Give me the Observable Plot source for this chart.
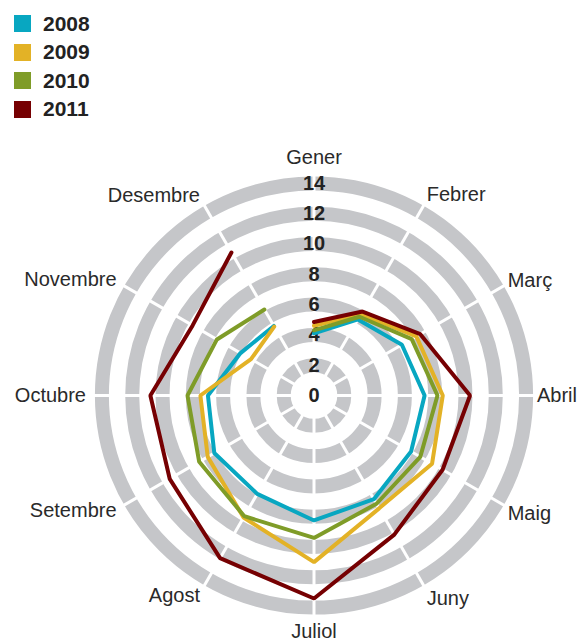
<!DOCTYPE html>
<html><head><meta charset="utf-8">
<script src="https://cdn.jsdelivr.net/npm/d3@7"></script>
<script src="https://cdn.jsdelivr.net/npm/@observablehq/plot@0.6"></script>
<style>
body{margin:0;background:#fff;font-family:"Liberation Sans",Arial,sans-serif;overflow:hidden;}
#legend{position:absolute;left:14px;top:15px;}
.item{display:flex;align-items:center;height:17px;margin-bottom:11.5px;font-weight:bold;font-size:21px;color:#222;}
.sw{width:17px;height:17px;margin-right:12px;flex:none;}
#chart{position:absolute;left:0;top:125px;}
</style></head><body>
<div id="legend"></div><div id="chart"></div>
<script>
const months = ["Gener","Febrer","Març","Abril","Maig","Juny","Juliol","Agost","Setembre","Octubre","Novembre","Desembre"];
const years = ["2008","2009","2010","2011"];
const colors = ["#08a7c1","#e3b226","#7f9c28","#760002"];
const v2008 = [4.1, 5.8, 6.7, 7.3, 7.4, 7.9, 8.25, 7.5, 7.6, 7.0, 5.6, 5.3];
const v2009 = [4.6, 6.2, 7.8, 8.5, 9.0, 8.6, 11.0, 9.3, 8.1, 7.5, 4.8, 5.25];
const v2010 = [4.3, 6.0, 7.45, 8.15, 8.1, 8.25, 9.4, 9.2, 8.75, 8.35, 7.4, 6.55];
const v2011 = [4.85, 6.4, 8.1, 10.3, 9.8, 10.6, 13.4, 12.4, 11.0, 10.8, 9.25, 10.9];
const ringValues = [2, 4, 6, 8, 10, 12, 14];
const tickValues = [0, 2, 4, 6, 8, 10, 12, 14];
const tickLabels = ["0","2","4","6","8","10","12","14"];

const series = [v2008, v2009, v2010, v2011];

// legend
const leg = document.getElementById("legend");
years.forEach((y, i) => {
  const it = document.createElement("div");
  it.className = "item";
  it.innerHTML = `<div class="sw" style="background:${colors[i]}"></div><span>${y}</span>`;
  leg.appendChild(it);
});

const K = 15.15, CX = 313.5, CY = 270, W = 578, H = 516;
const ang = i => i * Math.PI / 6;

const pts = [];
years.forEach((y, j) => {
  series[j].forEach((v, i) => {
    pts.push({year: y, month: months[i], v, x: v * Math.sin(ang(i)), y: v * Math.cos(ang(i))});
  });
});

const spokes = months.map((m, i) => ({x2: 15.2 * Math.sin(ang(i)), y2: 15.2 * Math.cos(ang(i))}));

const labels = months.map((m, i) => {
  const s = Math.sin(ang(i)), c = Math.cos(ang(i));
  const top = Math.abs(s) < 0.01;
  const right = s > 0.01;
  const r = (right ? 228 - 5 * s : 228) / K;
  const extra = (top ? (c > 0 ? 10 : 8) : 3) / K;
  let shift = 0;
  if (right) shift = c > 0 ? 3 * c : -5;
  return {m, x: r * s, y: (r + extra) * c + shift / K, anchor: right ? "start" : s < -0.01 ? "end" : "middle"};
});

const ticks = tickValues.map((v, i) => ({v, t: tickLabels[i]}));

const fontM = {fontSize: 20, fill: "#2a2a2a", fontFamily: "Liberation Sans, Arial, sans-serif"};

const chart = Plot.plot({
  width: W, height: H, margin: 0,
  style: {background: "transparent", overflow: "visible"},
  x: {domain: [-CX / K, (W - CX) / K], axis: null},
  y: {domain: [-(H - CY) / K, CY / K], axis: null},
  r: {type: "linear", domain: [0, 14], range: [0, 14 * K]},
  color: {domain: years, range: colors},
  marks: [
    Plot.dot(ringValues, {x: () => 0, y: () => 0, r: d => d, stroke: "#c5c6c9", strokeWidth: 14, fill: "none"}),
    Plot.link(spokes, {x1: () => 0, y1: () => 0, x2: "x2", y2: "y2", stroke: "white", strokeWidth: 3}),
    Plot.text(ticks, {x: () => 0, y: "v", text: "t", fontWeight: "bold", fontSize: 20, fill: "#222", fontFamily: "Liberation Sans, Arial, sans-serif"}),
    Plot.line(pts, {x: "x", y: "y", z: "year", stroke: "year", strokeWidth: 4, strokeLinejoin: "miter", curve: "linear"}),
    Plot.text(labels.filter(d => d.anchor === "start"), {x: "x", y: "y", text: "m", textAnchor: "start", ...fontM}),
    Plot.text(labels.filter(d => d.anchor === "end"), {x: "x", y: "y", text: "m", textAnchor: "end", ...fontM}),
    Plot.text(labels.filter(d => d.anchor === "middle"), {x: "x", y: "y", text: "m", textAnchor: "middle", ...fontM})
  ]
});
document.getElementById("chart").appendChild(chart);
</script>
</body></html>
